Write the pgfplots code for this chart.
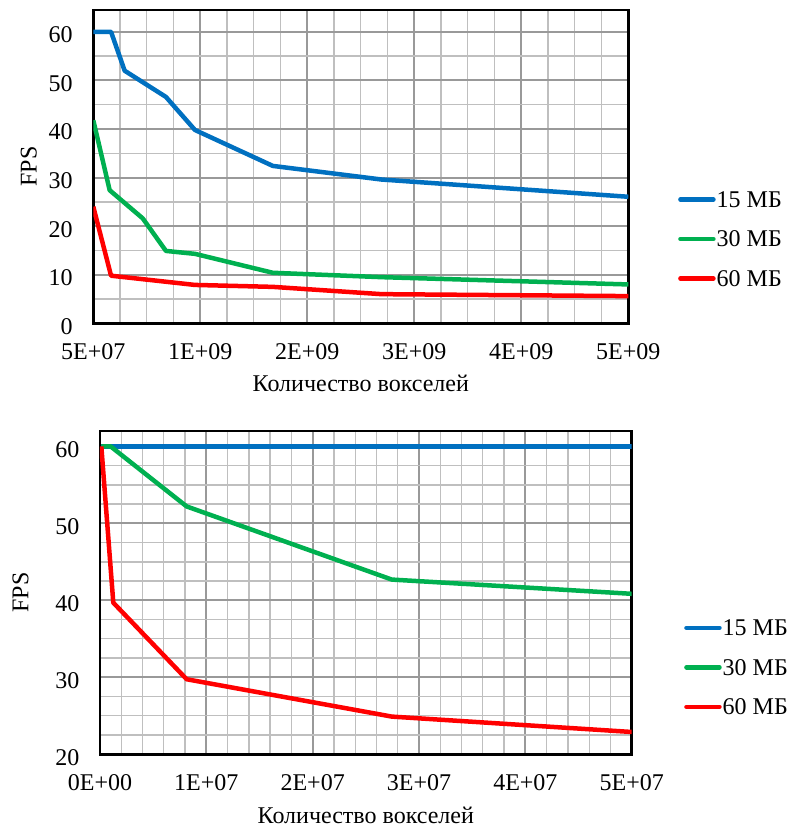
\documentclass[border=0pt]{standalone}
\usepackage{fontspec}
\setmainfont{Liberation Serif}
\usepackage{pgfplots}
\pgfplotsset{compat=1.18}
\definecolor{sblue}{HTML}{0070C0}
\definecolor{sgreen}{HTML}{00B050}
\definecolor{sred}{HTML}{FF0000}
\pgfplotsset{
  fps/.style={
    scale only axis, anchor=north west,
    axis line style={black, line width=2.4pt},
    grid=both,
    major grid style={draw=black!40, line width=1.9pt},
    minor grid style={draw=black!25, line width=1.3pt},
    major tick length=0pt, minor tick length=0pt,
    /pgf/number format/assume math mode=true,
    yticklabel style={anchor=east, inner sep=0pt, xshift=-20.5pt, yshift=-3pt},
    xticklabel style={anchor=base, yshift=-36pt},
    xlabel={Количество вокселей}, ylabel={FPS},
    xlabel style={anchor=base},
    ylabel style={anchor=base, rotate=0},
    every axis plot/.append style={line width=4.5pt, line join=round},
    legend cell align=left,
    legend image code/.code={\draw[##1, line width=4.5pt, line cap=round] (2pt,0pt) -- (35pt,0pt);},
    legend style={draw=none, fill=none, anchor=west, inner sep=0pt,
      nodes={inner sep=1pt, text height=16pt, text depth=0pt}, row sep=21.5pt},
  }
}
\begin{document}
\fontsize{24}{28}\selectfont
\begin{tikzpicture}
\path[use as bounding box] (0pt,0pt) rectangle (790pt,-827pt);
\begin{axis}[fps, at={(93.3pt,-10pt)}, width=535pt, height=313.3pt,
  xmin=0.05, xmax=5.05, ymin=0, ymax=64.5,
  xtick={0.05,1.05,2.05,3.05,4.05,5.05},
  xticklabels={5E+07,1E+09,2E+09,3E+09,4E+09,5E+09},
  minor x tick num=3,
  ytick={0,10,...,60}, minor y tick num=1,
  xlabel style={at={(axis description cs:0.5,-0.2183)}},
  ylabel style={at={(axis description cs:-0.1058,0.5)}},
  legend style={at={(axis description cs:1.0929,0.2691)}}]
\addplot[sblue] coordinates {(0.05,60) (0.216,60) (0.343,52.0) (0.729,46.6) (1.0,39.8) (1.728,32.4) (2.744,29.6) (5.05,26.05)};
\addplot[sgreen] coordinates {(0.05,41.8) (0.203,27.4) (0.512,21.6) (0.729,14.9) (1.0,14.3) (1.728,10.4) (2.744,9.5) (5.05,8.0)};
\addplot[sred] coordinates {(0.05,24.0) (0.216,9.8) (1.0,7.9) (1.728,7.5) (2.744,6.0) (5.05,5.6)};
\legend{15 МБ, 30 МБ, 60 МБ}
\end{axis}
\begin{axis}[fps, at={(100pt,-431pt)}, width=531.7pt, height=323.3pt,
  xmin=0, xmax=5, ymin=20, ymax=62,
  xtick={0,1,2,3,4,5},
  xticklabels={0E+00,1E+07,2E+07,3E+07,4E+07,5E+07},
  minor x tick num=4,
  ytick={20,30,...,60}, minor y tick num=3,
  xlabel style={at={(axis description cs:0.5,-0.2134)}},
  ylabel style={at={(axis description cs:-0.1349,0.5)}},
  legend style={at={(axis description cs:1.0984,0.2691)}}]
\addplot[sblue] coordinates {(0.0125,60) (5,60)};
\addplot[sgreen] coordinates {(0.0125,60) (0.1,60) (0.815,52.2) (2.744,42.7) (5,40.85)};
\addplot[sred] coordinates {(0.0125,60) (0.125,39.7) (0.815,29.75) (2.744,24.9) (5,22.9)};
\legend{15 МБ, 30 МБ, 60 МБ}
\end{axis}
\end{tikzpicture}
\end{document}
